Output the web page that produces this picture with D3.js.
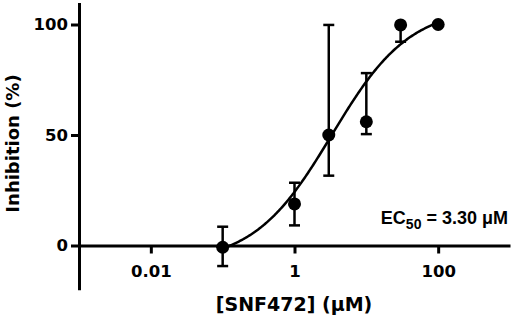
<!DOCTYPE html>
<html>
<head>
<meta charset="utf-8">
<script src="https://cdn.jsdelivr.net/npm/d3@7"></script>
<style>
  body { margin: 0; background: #fff; }
</style>
</head>
<body>
<div id="vis"></div>
<script>
// datos
const concentraciones = [0.1, 1, 3, 10, 30, 100];   // uM
const inhibicion = [-0.8, 18.8, 50, 56, 99.8, 100];  // %
const errorBajo = [-9.3, 9.1, 31.6, 50.4, 92.2, 100];
const errorAlto = [8.5, 28.4, 99.8, 78, 100, 100];

const xTicks = [0.01, 1, 100];
const yTicks = [0, 50, 100];

// parametros del ajuste (4PL)
const FIT_BOTTOM = -8;
const FIT_TOP = 108;
const EC50 = 3.30;
const HILL = 0.8;

const WIDTH = 512;
const HEIGHT = 319;

const SVG = d3.select("#vis").append("svg")
    .attr("width", WIDTH).attr("height", HEIGHT);

const FONT_TICK = "'DejaVu Sans', sans-serif";
const FONT_TXT = "'Liberation Sans', Arial, sans-serif";

crearGrafico();

function crearGrafico() {
    const datos = concentraciones.map((c, i) => ({
        x: c, y: inhibicion[i], lo: errorBajo[i], hi: errorAlto[i]
    }));

    const x = d3.scaleLog().domain([0.001, 1000]).range([79, 510]);
    const y = d3.scaleLinear().domain([-20, 110]).range([289.7, 2.4]);

    // Eje Y
    const ejeY = SVG.append("g")
        .attr("transform", `translate(${x(0.001)}, 0)`)
        .call(d3.axisLeft(y).tickValues(yTicks).tickFormat(d3.format("d"))
            .tickSize(8).tickPadding(3).tickSizeOuter(0));

    // Eje X (en y = 0)
    const ejeX = SVG.append("g")
        .attr("transform", `translate(0, ${y(0)})`)
        .call(d3.axisBottom(x).tickValues(xTicks).tickFormat(d => d3.format("")(d))
            .tickSize(8).tickPadding(11.5).tickSizeOuter(0));

    [ejeX, ejeY].forEach(e => {
        e.select(".domain").attr("stroke", "#000").attr("stroke-width", 3);
        e.selectAll(".tick line").attr("stroke", "#000").attr("stroke-width", 3);
        e.selectAll(".tick text")
            .attr("fill", "#000")
            .style("font-family", FONT_TICK)
            .style("font-weight", "bold")
            .style("font-size", "16.5px");
    });

    // Curva ajustada
    const logistica = c => FIT_BOTTOM + (FIT_TOP - FIT_BOTTOM) / (1 + Math.pow(EC50 / c, HILL));
    const curva = d3.range(0, 201).map(i => {
        const c = Math.pow(10, -1 + 3 * i / 200);
        return [c, logistica(c)];
    });

    SVG.append("path")
        .datum(curva)
        .attr("fill", "none")
        .attr("stroke", "#000")
        .attr("stroke-width", 2.5)
        .attr("d", d3.line().x(d => x(d[0])).y(d => y(d[1])));

    // Barras de error
    const barras = SVG.append("g").selectAll("g")
        .data(datos)
        .join("g")
        .attr("stroke", "#000")
        .attr("stroke-width", 2.5);

    barras.append("line")
        .attr("x1", d => x(d.x)).attr("x2", d => x(d.x))
        .attr("y1", d => y(d.lo)).attr("y2", d => y(d.hi));

    barras.filter(d => d.lo < d.y).append("line")
        .attr("x1", d => x(d.x) - 5.5).attr("x2", d => x(d.x) + 5.5)
        .attr("y1", d => y(d.lo)).attr("y2", d => y(d.lo));

    barras.filter(d => d.hi > d.y).append("line")
        .attr("x1", d => x(d.x) - 5.5).attr("x2", d => x(d.x) + 5.5)
        .attr("y1", d => y(d.hi)).attr("y2", d => y(d.hi));

    // Puntos
    SVG.append("g").selectAll("circle")
        .data(datos)
        .join("circle")
        .attr("cx", d => x(d.x))
        .attr("cy", d => y(d.y))
        .attr("r", 6.5)
        .attr("fill", "#000");

    // Titulos de ejes
    SVG.append("text")
        .attr("transform", "translate(19, 143.5) rotate(-90)")
        .attr("text-anchor", "middle")
        .style("font-family", FONT_TICK)
        .style("font-weight", "bold")
        .style("font-size", "18px")
        .text("Inhibition (%)");

    SVG.append("text")
        .attr("x", 294).attr("y", 311)
        .attr("text-anchor", "middle")
        .style("font-family", FONT_TICK)
        .style("font-weight", "bold")
        .style("font-size", "19px")
        .text("[SNF472] (\u03BCM)");

    // EC50
    const ec = SVG.append("text")
        .attr("x", 508).attr("y", 223.5)
        .attr("text-anchor", "end")
        .style("font-family", FONT_TXT)
        .style("font-weight", "bold")
        .style("font-size", "18px");
    ec.append("tspan").text("EC");
    ec.append("tspan").attr("dy", 5.5).style("font-size", "14px").text("50");
    ec.append("tspan").attr("dy", -5.5).text(` = ${EC50.toFixed(2)} \u03BCM`);
}
</script>
</body>
</html>
